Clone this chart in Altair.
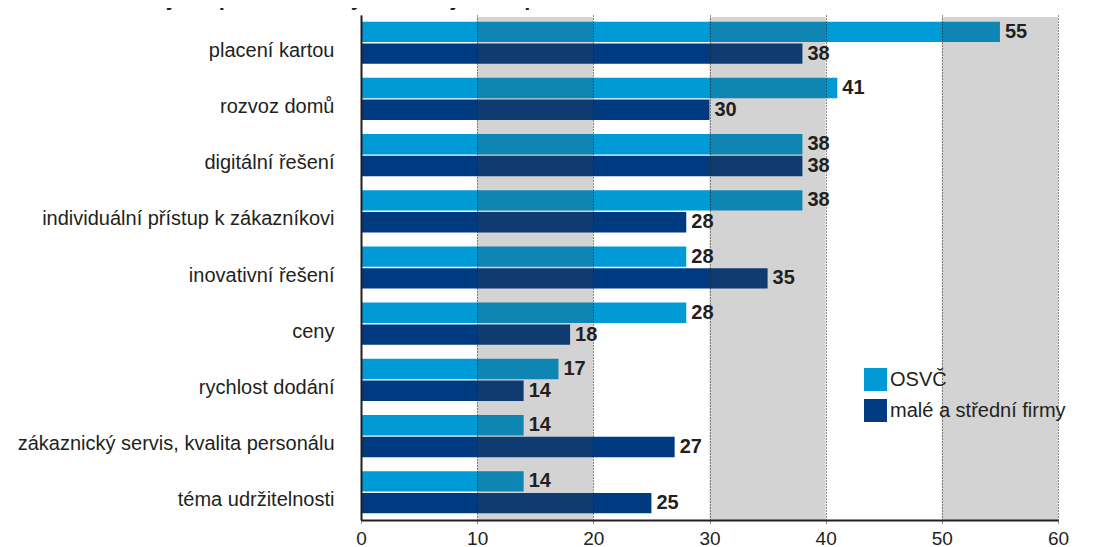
import altair as alt
import pandas as pd

title_text = "Které oblasti jsou pro zákazníky důležitější než před covidem"
categories = [
    "placení kartou",
    "rozvoz domů",
    "digitální řešení",
    "individuální přístup k zákazníkovi",
    "inovativní řešení",
    "ceny",
    "rychlost dodání",
    "zákaznický servis, kvalita personálu",
    "téma udržitelnosti",
]
series = ["OSVČ", "malé a střední firmy"]
osvc = [55, 41, 38, 38, 28, 28, 17, 14, 14]
msp = [38, 30, 38, 28, 35, 18, 14, 27, 25]
band_start = [10, 30, 50]
band_end = [20, 40, 60]
x_ticks = [0, 10, 20, 30, 40, 50, 60]

colors = ["#009ad6", "#003a80"]
ink = "#231f20"
font = "Liberation Sans"

rows = []
for c, a, b in zip(categories, osvc, msp):
    rows.append({"kat": c, "serie": series[0], "hodnota": a})
    rows.append({"kat": c, "serie": series[1], "hodnota": b})
df = pd.DataFrame(rows)
bands = pd.DataFrame({"od": band_start, "do": band_end})
tdf = pd.DataFrame({"t": [title_text]})

W, H = 697, 505

x_enc = alt.X(
    "hodnota:Q",
    scale=alt.Scale(domain=[0, 60], nice=False, zero=True),
    axis=alt.Axis(
        title=None,
        values=x_ticks,
        grid=True,
        gridDash=[1, 2],
        gridColor=ink,
        gridWidth=1,
        gridOpacity=1,
        domainColor=ink,
        domainWidth=2,
        tickColor=ink,
        tickSize=4,
        tickDash=[1, 1],
        labelFont=font,
        labelFontSize=19,
        labelColor=ink,
        labelPadding=5,
        labelFlush=False,
        zindex=1,
    ),
)
y_enc = alt.Y(
    "kat:N",
    sort=categories,
    scale=alt.Scale(paddingInner=0.25, paddingOuter=0.118),
    axis=alt.Axis(
        title=None,
        ticks=False,
        domainColor=ink,
        domainWidth=2,
        labelFont=font,
        labelFontSize=20,
        labelColor=ink,
        labelPadding=27,
        labelOffset=8,
        labelLimit=400,
        zindex=1,
    ),
)
yoff = alt.YOffset("serie:N", sort=series, scale=alt.Scale(paddingInner=0.065, paddingOuter=0))

bars = alt.Chart(df).mark_bar().encode(
    x=x_enc,
    y=y_enc,
    yOffset=yoff,
    color=alt.Color(
        "serie:N",
        scale=alt.Scale(domain=series, range=colors),
        legend=alt.Legend(
            orient="none",
            legendX=503,
            legendY=353,
            title=None,
            symbolType="square",
            symbolSize=529,
            symbolStrokeWidth=0,
            symbolOpacity=1,
            labelFont=font,
            labelFontSize=20,
            labelColor=ink,
            labelOffset=3,
            labelLimit=400,
            rowPadding=8,
            padding=0,
        ),
    ),
)

shade = alt.Chart(bands).mark_rect(color="#414141", opacity=0.23).encode(
    x="od:Q",
    x2="do:Q",
    y=alt.value(2),
    y2=alt.value(H),
)

labels = alt.Chart(df).mark_text(
    align="left", baseline="middle", dx=5, font=font, fontSize=20, fontWeight="bold", color=ink
).encode(
    x="hodnota:Q",
    y=alt.Y("kat:N", sort=categories),
    yOffset=alt.YOffset("serie:N", sort=series),
    text="hodnota:Q",
)

title = alt.Chart(tdf).mark_text(
    align="left", baseline="alphabetic", font=font, fontSize=22, fontWeight="bold", color=ink
).encode(
    text="t:N",
    x=alt.value(-333),
    y=alt.value(-10),
)

chart = alt.layer(bars, shade, labels, title).properties(
    width=W,
    height=H,
    autosize=alt.AutoSizeParams(type="none"),
    padding={"left": 353, "top": 7, "right": 27, "bottom": 27},
    background="white",
).configure_view(stroke=None)

chart.save("out.html", embed_options={"renderer": "svg", "actions": False})
